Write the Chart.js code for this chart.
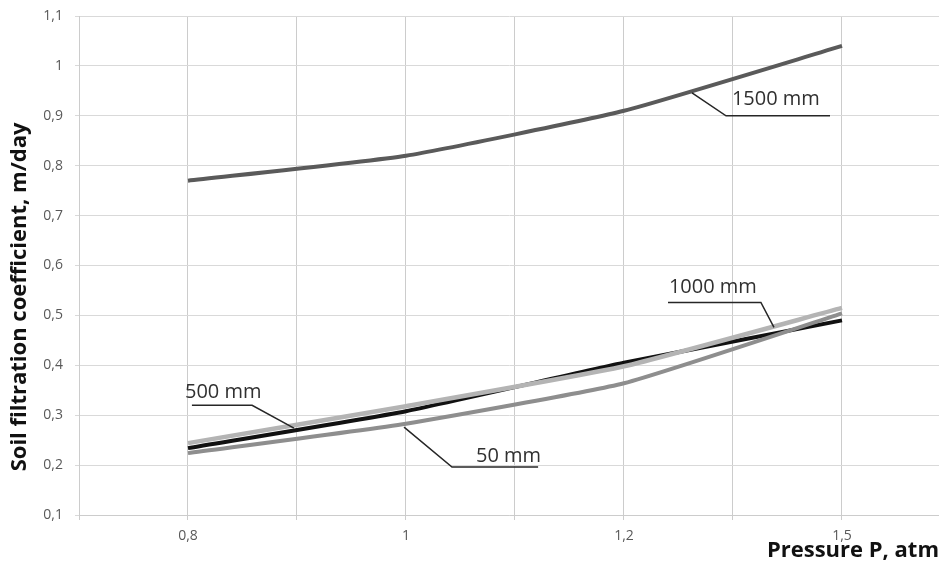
<!DOCTYPE html>
<html>
<head>
<meta charset="utf-8">
<script src="https://cdn.jsdelivr.net/npm/chart.js@4.4.0/dist/chart.umd.min.js"></script>
<style>
  html, body { margin: 0; padding: 0; background: #fff; }
  #wrap { width: 939px; height: 565px; }
</style>
</head>
<body>
<div id="wrap"><canvas id="myChart"></canvas></div>
<script>
// categories (pressure, atm) and tick labels
const pressure = ["0,8", "1", "1,2", "1,5"];
const yLabels = ["0,1", "0,2", "0,3", "0,4", "0,5", "0,6", "0,7", "0,8", "0,9", "1", "1,1"];

// soil filtration coefficient, m/day, per depth
const depth1500 = [0.77, 0.82, 0.91, 1.04];
const depth1000 = [0.244, 0.318, 0.398, 0.515];
const depth500 = [0.234, 0.308, 0.405, 0.49];
const depth50 = [0.224, 0.283, 0.364, 0.504];

// callout labels, in data units (x = category index, y = value)
const notes = [
  { text: "1500 mm", at: [2.495, 0.934], path: [[2.312, 0.946], [2.468, 0.9], [2.945, 0.9]] },
  { text: "1000 mm", at: [2.206, 0.556], path: [[2.688, 0.476], [2.628, 0.526], [2.202, 0.526]] },
  { text: "500 mm", at: [-0.014, 0.346], path: [[0.486, 0.274], [0.294, 0.32], [0.018, 0.32]] },
  { text: "50 mm", at: [1.321, 0.218], path: [[0.991, 0.276], [1.211, 0.196], [1.606, 0.196]] },
];

const toPoints = (arr) => arr.map((v, i) => ({ x: i, y: v }));

const line = (label, arr, color, width) => ({
  label: label,
  data: toPoints(arr),
  borderColor: color,
  borderWidth: width,
  pointRadius: 0,
  tension: 0.15,
  fill: false,
});

const calloutPlugin = {
  id: "callouts",
  afterDatasetsDraw(chart) {
    const { ctx, scales } = chart;
    const x = scales.x;
    const y = scales.y;
    ctx.save();
    ctx.strokeStyle = "#262626";
    ctx.lineWidth = 1.5;
    ctx.fillStyle = "#303030";
    ctx.font = '20px "Open Sans"';
    ctx.textAlign = "left";
    ctx.textBaseline = "middle";
    notes.forEach((n) => {
      ctx.beginPath();
      n.path.forEach((p, i) => {
        const px = x.getPixelForValue(p[0]);
        const py = y.getPixelForValue(p[1]);
        if (i === 0) ctx.moveTo(px, py);
        else ctx.lineTo(px, py);
      });
      ctx.stroke();
      ctx.fillText(n.text, x.getPixelForValue(n.at[0]), y.getPixelForValue(n.at[1]));
    });
    ctx.restore();
  },
};

const onHalfStep = (v) => Math.abs(v * 2 - Math.round(v * 2)) < 1e-6;

const myChart = new Chart(document.querySelector("#myChart").getContext("2d"), {
  type: "line",
  data: {
    datasets: [
      line("1500 mm", depth1500, "#5a5a5a", 4),
      line("1000 mm", depth1000, "#b4b4b4", 4.5),
      line("50 mm", depth50, "#8e8e8e", 4),
      line("500 mm", depth500, "#111111", 4),
    ],
  },
  options: {
    responsive: true,
    maintainAspectRatio: false,
    animation: false,
    layout: { padding: { top: 16, left: 0, right: 0, bottom: 0 } },
    plugins: {
      legend: { display: false },
      tooltip: { enabled: false },
    },
    scales: {
      x: {
        type: "linear",
        min: -0.5,
        max: 3.445,
        afterFit: (s) => {
          s.height = 50;
          s.paddingLeft = 0;
          s.paddingRight = 0;
        },
        grid: {
          color: (c) => (c.tick && onHalfStep(c.tick.value) ? "#cccccc" : "rgba(0,0,0,0)"),
          tickLength: 5,
        },
        border: { color: "#cccccc" },
        ticks: {
          stepSize: 0.5,
          autoSkip: false,
          maxRotation: 0,
          padding: 8,
          color: "#595959",
          font: { family: "Open Sans", size: 14 },
          callback: (v) => (Number.isInteger(v) && v >= 0 && v < pressure.length ? pressure[v] : ""),
        },
        title: {
          display: true,
          text: "Pressure P, atm",
          align: "end",
          color: "#111",
          font: { family: "Open Sans", size: 22, weight: "bold" },
          padding: { top: 0, bottom: 1 },
        },
      },
      y: {
        min: 0.1,
        max: 1.1,
        afterFit: (s) => {
          s.width = 79;
          s.paddingTop = 0;
          s.paddingBottom = 0;
        },
        grid: { color: "#d9d9d9", tickLength: 4 },
        border: { color: "#cccccc" },
        ticks: {
          stepSize: 0.1,
          padding: 12,
          color: "#595959",
          font: { family: "Open Sans", size: 14 },
          callback: (v) => yLabels[Math.round((v - 0.1) * 10)],
        },
        title: {
          display: true,
          text: "Soil filtration coefficient, m/day           ",
          color: "#111",
          font: { family: "Open Sans", size: 22, weight: "bold" },
          padding: { top: 7, bottom: 0 },
        },
      },
    },
  },
  plugins: [calloutPlugin],
});
</script>
</body>
</html>
